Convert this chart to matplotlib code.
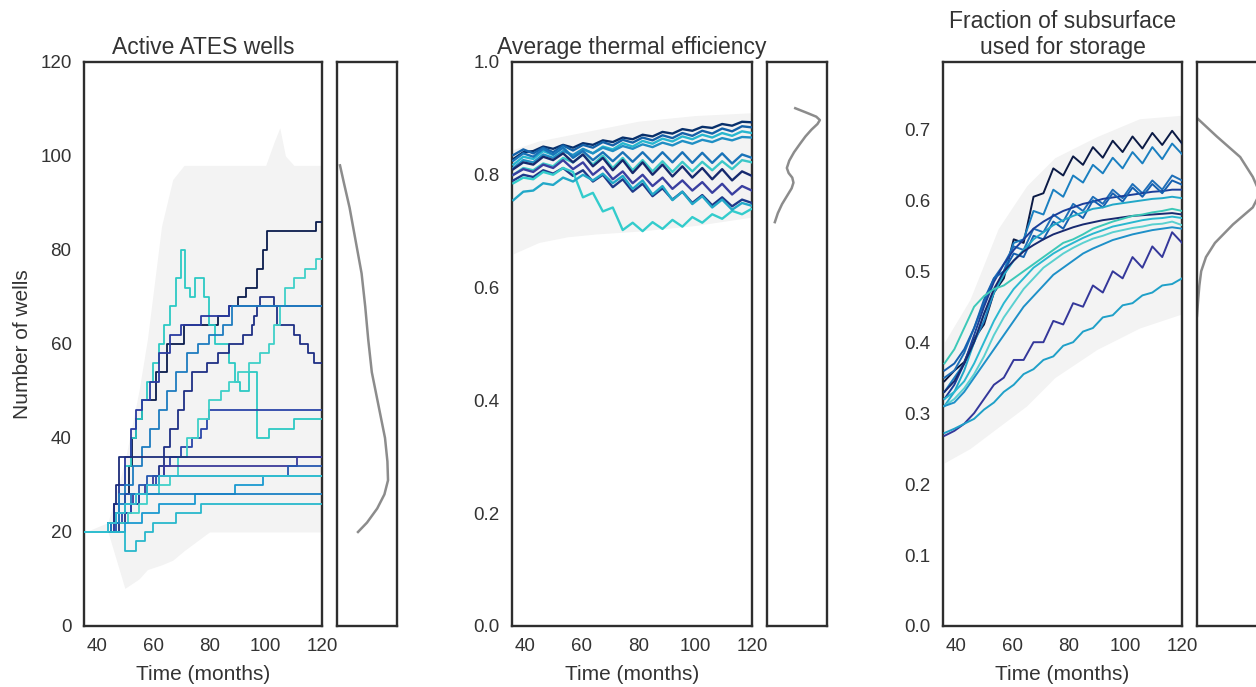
import numpy as np
import matplotlib
matplotlib.use('Agg')
import matplotlib.pyplot as plt

plt.rcParams['font.family'] = ['Liberation Sans', 'DejaVu Sans']

# ── Panel 1: active wells (step series, change months + levels) ─────────────
wells_months = [
    [36, 45, 47, 50, 51.5, 52.5, 54, 56, 61, 65, 71, 83, 87, 90, 93, 97, 99, 100.5, 118],
    [36, 44, 46, 48, 50, 52, 54, 56, 58, 60, 62, 64, 66, 68, 70, 71.5, 73, 75, 78, 80, 82, 87, 89, 91, 94, 97, 101, 110],
    [36, 44, 46, 48, 50, 52, 54, 56, 59, 62, 66, 70, 77, 87],
    [36, 48, 50, 52, 55, 58, 62, 64, 66, 69, 71, 74, 79, 83, 87, 92, 95, 96, 97, 98, 103, 104, 110, 112, 115, 117],
    [36, 46, 49, 52, 55, 58, 61, 64, 66, 70, 74, 77, 79, 80],
    [36, 47, 51, 55, 58, 62, 66, 69, 72, 76, 80, 84, 87, 90, 94, 98, 101, 103, 105, 107, 110, 114, 118],
    [36, 44, 46, 48, 50, 53, 56, 59, 62, 65, 68, 72, 76, 80, 85, 88],
    [36, 45, 46, 47, 48],
    [36, 46, 48, 50, 53, 57, 60, 64, 111],
    [36, 47, 50, 55, 58, 108],
    [36, 50, 56, 62, 75, 89, 99],
    [36, 45, 48, 52],
    [36, 50, 54, 57, 60, 68, 77],
    [36, 44, 47, 50, 54, 58, 62],
]
wells_counts = [
    [20, 22, 24, 28, 34, 40, 44, 48, 54, 60, 64, 66, 68, 70, 72, 76, 80, 84, 86],
    [20, 22, 26, 30, 34, 40, 44, 48, 52, 56, 60, 64, 68, 74, 80, 72, 70, 74, 70, 64, 60, 56, 52, 50, 54, 40, 42, 44],
    [20, 22, 26, 30, 36, 42, 46, 48, 52, 58, 62, 64, 66, 68],
    [20, 22, 24, 26, 28, 30, 34, 38, 42, 46, 50, 54, 56, 58, 60, 62, 64, 66, 68, 70, 68, 64, 62, 60, 58, 56],
    [20, 22, 24, 26, 28, 30, 32, 34, 36, 38, 40, 42, 44, 46],
    [20, 22, 24, 26, 28, 30, 32, 36, 40, 44, 48, 50, 52, 54, 56, 58, 60, 64, 68, 72, 74, 76, 78],
    [20, 22, 24, 28, 30, 34, 38, 42, 46, 50, 54, 58, 60, 62, 64, 68],
    [20, 22, 26, 30, 36],
    [20, 22, 24, 26, 28, 30, 32, 34, 36],
    [20, 24, 28, 30, 32, 34],
    [20, 22, 24, 26, 28, 30, 32],
    [20, 22, 26, 28],
    [20, 16, 18, 20, 22, 24, 26],
    [20, 22, 24, 26, 28, 30, 32],
]
wells_colors = ['#0a1c4c', '#2cc9c4', '#2a3aa0', '#1f2f85', '#2a45a8', '#3fd0c8', '#1e7cc0',
                '#1c2c7a', '#3a3a9a', '#2657b0', '#1a9ad0', '#1a80c4', '#28b8cc', '#33c0d0']

wells_env_t = [36, 44, 50, 55, 58, 63, 67, 71, 80, 100, 103, 105, 107, 110, 120]
wells_env_hi = [20, 22, 35, 50, 61, 85, 95, 98, 98, 98, 103, 106, 100, 98, 98]
wells_env_lo = [20, 20, 8, 10, 12, 13, 14, 16, 20, 20, 20, 20, 20, 20, 20]

wells_kde_v = [20, 22, 25, 28, 31, 35, 40, 47, 54, 61, 68, 75, 82, 89, 94, 98]
wells_kde_d = [0.35, 0.50, 0.67, 0.79, 0.85, 0.84, 0.80, 0.69, 0.58, 0.52, 0.47, 0.41, 0.31, 0.21, 0.12, 0.05]

# ── Panel 2: average thermal efficiency (sampled every 3.5 months) ──────────
t_sample = np.arange(36, 120.1, 3.5)
eff_series = [
    [0.828, 0.840, 0.842, 0.850, 0.846, 0.853, 0.848, 0.856, 0.853, 0.861, 0.858, 0.866, 0.863, 0.871, 0.868, 0.876, 0.873, 0.881, 0.878, 0.885, 0.883, 0.890, 0.887, 0.894, 0.893],
    [0.835, 0.845, 0.838, 0.848, 0.840, 0.852, 0.843, 0.853, 0.848, 0.858, 0.852, 0.862, 0.857, 0.866, 0.861, 0.870, 0.865, 0.874, 0.869, 0.878, 0.873, 0.882, 0.877, 0.886, 0.884],
    [0.818, 0.832, 0.828, 0.842, 0.835, 0.848, 0.832, 0.845, 0.838, 0.850, 0.845, 0.856, 0.850, 0.860, 0.855, 0.864, 0.859, 0.868, 0.863, 0.871, 0.866, 0.874, 0.869, 0.877, 0.874],
    [0.812, 0.826, 0.822, 0.836, 0.830, 0.842, 0.835, 0.846, 0.838, 0.848, 0.842, 0.851, 0.846, 0.854, 0.849, 0.857, 0.852, 0.860, 0.855, 0.862, 0.858, 0.865, 0.861, 0.867, 0.866],
    [0.825, 0.838, 0.832, 0.846, 0.836, 0.848, 0.830, 0.842, 0.826, 0.840, 0.824, 0.840, 0.823, 0.840, 0.822, 0.840, 0.822, 0.840, 0.821, 0.839, 0.821, 0.838, 0.820, 0.836, 0.830],
    [0.800, 0.812, 0.808, 0.820, 0.815, 0.830, 0.822, 0.836, 0.818, 0.834, 0.812, 0.830, 0.808, 0.826, 0.806, 0.824, 0.805, 0.823, 0.806, 0.823, 0.808, 0.824, 0.810, 0.826, 0.822],
    [0.810, 0.822, 0.818, 0.832, 0.826, 0.838, 0.822, 0.836, 0.815, 0.830, 0.808, 0.826, 0.803, 0.822, 0.800, 0.818, 0.797, 0.815, 0.795, 0.812, 0.792, 0.810, 0.790, 0.806, 0.798],
    [0.800, 0.810, 0.805, 0.818, 0.812, 0.826, 0.810, 0.822, 0.800, 0.814, 0.792, 0.806, 0.785, 0.800, 0.780, 0.795, 0.775, 0.790, 0.772, 0.787, 0.768, 0.784, 0.765, 0.780, 0.772],
    [0.790, 0.800, 0.796, 0.808, 0.802, 0.812, 0.798, 0.808, 0.788, 0.800, 0.778, 0.792, 0.770, 0.784, 0.762, 0.776, 0.756, 0.770, 0.750, 0.764, 0.746, 0.760, 0.744, 0.756, 0.750],
    [0.785, 0.795, 0.792, 0.805, 0.800, 0.812, 0.805, 0.760, 0.768, 0.735, 0.742, 0.702, 0.715, 0.700, 0.716, 0.704, 0.720, 0.708, 0.725, 0.715, 0.730, 0.722, 0.736, 0.730, 0.740],
    [0.755, 0.770, 0.772, 0.785, 0.782, 0.795, 0.788, 0.800, 0.790, 0.802, 0.785, 0.798, 0.775, 0.790, 0.765, 0.780, 0.755, 0.770, 0.748, 0.762, 0.742, 0.756, 0.738, 0.750, 0.745],
]
eff_colors = ['#08306b', '#1361a8', '#27b6cf', '#1f8fc4', '#1a73b8', '#3cc8c8',
              '#172a6e', '#3a3fa0', '#1e3a8a', '#33cccc', '#22a8c8']

eff_env_t = [36, 45, 55, 65, 80, 100, 120]
eff_env_hi = [0.845, 0.86, 0.87, 0.88, 0.895, 0.905, 0.91]
eff_env_lo = [0.66, 0.68, 0.69, 0.695, 0.70, 0.71, 0.725]

eff_kde_v = [0.918, 0.910, 0.903, 0.897, 0.890, 0.880, 0.868, 0.855, 0.840, 0.825, 0.812, 0.803, 0.795, 0.786, 0.776, 0.762, 0.748, 0.732, 0.716]
eff_kde_d = [0.47, 0.66, 0.82, 0.88, 0.84, 0.74, 0.64, 0.55, 0.45, 0.37, 0.33, 0.36, 0.42, 0.44, 0.41, 0.33, 0.25, 0.18, 0.13]

# ── Panel 3: fraction of subsurface used ────────────────────────────────────
frac_series = [
    [0.345, 0.36, 0.372, 0.405, 0.425, 0.47, 0.49, 0.545, 0.54, 0.605, 0.61, 0.645, 0.635, 0.662, 0.65, 0.675, 0.66, 0.684, 0.668, 0.69, 0.673, 0.695, 0.678, 0.698, 0.68],
    [0.33, 0.35, 0.37, 0.40, 0.43, 0.47, 0.50, 0.54, 0.545, 0.585, 0.58, 0.615, 0.605, 0.635, 0.625, 0.65, 0.638, 0.66, 0.645, 0.668, 0.652, 0.675, 0.658, 0.68, 0.665],
    [0.35, 0.36, 0.385, 0.42, 0.455, 0.49, 0.51, 0.535, 0.53, 0.56, 0.555, 0.58, 0.57, 0.595, 0.585, 0.605, 0.595, 0.615, 0.603, 0.623, 0.61, 0.628, 0.615, 0.635, 0.628],
    [0.32, 0.34, 0.37, 0.41, 0.45, 0.485, 0.51, 0.53, 0.545, 0.56, 0.57, 0.578, 0.585, 0.59, 0.595, 0.598, 0.602, 0.604, 0.606, 0.608, 0.61, 0.612, 0.613, 0.615, 0.615],
    [0.36, 0.37, 0.39, 0.42, 0.46, 0.49, 0.50, 0.525, 0.52, 0.55, 0.545, 0.57, 0.56, 0.585, 0.575, 0.60, 0.59, 0.61, 0.598, 0.618, 0.605, 0.623, 0.61, 0.628, 0.622],
    [0.31, 0.33, 0.36, 0.40, 0.44, 0.47, 0.495, 0.515, 0.53, 0.545, 0.555, 0.565, 0.572, 0.578, 0.583, 0.588, 0.59, 0.594, 0.596, 0.598, 0.6, 0.602, 0.603, 0.605, 0.603],
    [0.33, 0.345, 0.37, 0.40, 0.44, 0.475, 0.50, 0.515, 0.528, 0.537, 0.545, 0.552, 0.557, 0.562, 0.566, 0.569, 0.572, 0.574, 0.576, 0.578, 0.579, 0.58, 0.581, 0.582, 0.58],
    [0.37, 0.39, 0.42, 0.45, 0.465, 0.475, 0.48, 0.49, 0.50, 0.51, 0.52, 0.53, 0.54, 0.545, 0.552, 0.56, 0.565, 0.57, 0.574, 0.578, 0.58, 0.583, 0.585, 0.588, 0.585],
    [0.32, 0.33, 0.345, 0.37, 0.40, 0.43, 0.455, 0.475, 0.49, 0.505, 0.515, 0.525, 0.533, 0.54, 0.547, 0.553, 0.558, 0.563, 0.566, 0.569, 0.572, 0.574, 0.575, 0.577, 0.575],
    [0.31, 0.32, 0.335, 0.355, 0.38, 0.41, 0.435, 0.455, 0.475, 0.49, 0.505, 0.515, 0.525, 0.533, 0.54, 0.546, 0.55, 0.555, 0.558, 0.561, 0.563, 0.566, 0.567, 0.57, 0.565],
    [0.31, 0.315, 0.33, 0.35, 0.37, 0.39, 0.41, 0.43, 0.45, 0.465, 0.48, 0.495, 0.505, 0.515, 0.525, 0.532, 0.538, 0.544, 0.548, 0.552, 0.555, 0.558, 0.56, 0.562, 0.56],
    [0.268, 0.275, 0.285, 0.30, 0.32, 0.34, 0.35, 0.375, 0.375, 0.40, 0.40, 0.43, 0.425, 0.455, 0.45, 0.48, 0.47, 0.5, 0.49, 0.52, 0.505, 0.535, 0.52, 0.555, 0.54],
    [0.272, 0.278, 0.285, 0.292, 0.305, 0.315, 0.33, 0.34, 0.355, 0.362, 0.375, 0.38, 0.395, 0.40, 0.415, 0.42, 0.435, 0.438, 0.452, 0.455, 0.466, 0.47, 0.48, 0.482, 0.49],
]
frac_colors = ['#0b1a45', '#1a7fc0', '#1f6fb8', '#1b3f9a', '#1560b0', '#22a8c8', '#182a70',
               '#3cc8b8', '#2ab8d0', '#5ad0d0', '#1e90c8', '#34379a', '#1fa0c8']

frac_env_t = [36, 45, 55, 65, 75, 90, 105, 120]
frac_env_hi = [0.40, 0.46, 0.56, 0.62, 0.66, 0.69, 0.715, 0.72]
frac_env_lo = [0.23, 0.25, 0.28, 0.31, 0.35, 0.39, 0.42, 0.44]

frac_kde_v = [0.437, 0.46, 0.48, 0.50, 0.52, 0.54, 0.566, 0.59, 0.61, 0.633, 0.661, 0.69, 0.716]
frac_kde_d = [0.0, 0.02, 0.04, 0.07, 0.15, 0.30, 0.60, 0.93, 1.05, 0.93, 0.72, 0.33, 0.0]

# ── Figure ──────────────────────────────────────────────────────────────────
fig = plt.figure(figsize=(12.56, 6.87), dpi=100)
SPINE = '#2e2e2e'
TXT = '#333333'
ENV = '#f3f3f3'

def style(ax):
    for s in ax.spines.values():
        s.set_color(SPINE)
        s.set_linewidth(1.7)
    ax.tick_params(length=0, pad=9, labelsize=13.5, colors=TXT)

bottom, height = 0.0888, 0.821
panels = [
    (0.0669, 0.1895, 0.2683, 'Active ATES wells', (0, 120), [0, 20, 40, 60, 80, 100, 120]),
    (0.4076, 0.1911, 0.6107, 'Average thermal efficiency', (0, 1.0), [0.0, 0.2, 0.4, 0.6, 0.8, 1.0]),
    (0.7508, 0.1903, 0.9530, 'Fraction of subsurface\nused for storage', (0, 0.795),
     [0.0, 0.1, 0.2, 0.3, 0.4, 0.5, 0.6, 0.7]),
]

axes = []
for left, width, side_left, title, ylim, yt in panels:
    ax = fig.add_axes([left, bottom, width, height])
    sax = fig.add_axes([side_left, bottom, 0.0478, height])
    style(ax)
    style(sax)
    ax.set_xlim(35.5, 120)
    ax.set_ylim(*ylim)
    ax.set_xticks([40, 60, 80, 100, 120])
    ax.set_yticks(yt)
    if ylim[1] <= 1.0:
        ax.set_yticklabels([f'{v:.1f}' for v in yt])
    ax.set_xlabel('Time (months)', fontsize=15, color=TXT, labelpad=7)
    ax.set_title(title, fontsize=16.5, color=TXT, pad=6, linespacing=1.15)
    sax.set_xlim(0, 1)
    sax.set_ylim(*ylim)
    sax.set_xticks([])
    sax.set_yticks([])
    axes.append((ax, sax))

# Panel 1
ax, sax = axes[0]
ax.fill_between(wells_env_t, wells_env_lo, wells_env_hi, color=ENV, lw=0, zorder=1)
for m, c, col in zip(wells_months, wells_counts, wells_colors):
    ax.step(m + [120], c + [c[-1]], where='post', color=col, lw=1.3, zorder=3)
ax.set_ylabel('Number of wells', fontsize=15, color=TXT, labelpad=6)
sax.plot(wells_kde_d, wells_kde_v, color='#8c8c8c', lw=1.8)

# Panel 2
ax, sax = axes[1]
ax.fill_between(eff_env_t, eff_env_lo, eff_env_hi, color=ENV, lw=0, zorder=1)
for s, col in zip(eff_series, eff_colors):
    ax.plot(t_sample, s, color=col, lw=1.7, zorder=3)
sax.plot(eff_kde_d, eff_kde_v, color='#8c8c8c', lw=1.8)

# Panel 3
ax, sax = axes[2]
ax.fill_between(frac_env_t, frac_env_lo, frac_env_hi, color=ENV, lw=0, zorder=1)
for s, col in zip(frac_series, frac_colors):
    ax.plot(t_sample, s, color=col, lw=1.4, zorder=3)
sax.plot(frac_kde_d, frac_kde_v, color='#8c8c8c', lw=1.8)

fig.savefig('out.png', dpi=100)
